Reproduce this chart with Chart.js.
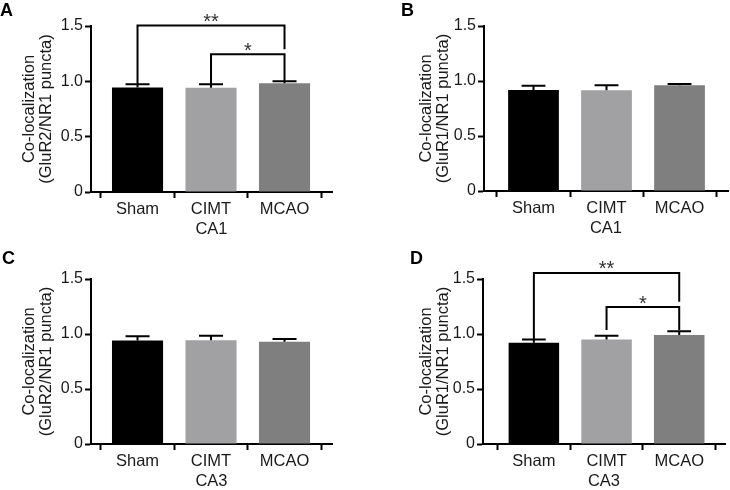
<!DOCTYPE html>
<html><head><meta charset="utf-8">
<script src="https://cdn.jsdelivr.net/npm/chart.js@4.4.0/dist/chart.umd.min.js"></script>
<style>
html,body{margin:0;padding:0;background:#fff;}
body{width:730px;height:490px;overflow:hidden;position:relative;}
canvas{position:absolute;}
.lbl{position:absolute;font:bold 18px "Liberation Sans",Arial,sans-serif;line-height:18px;color:#000;}
</style></head><body>
<canvas id="cA" width="365" height="245" style="left:0;top:0"></canvas>
<canvas id="cB" width="365" height="245" style="left:365px;top:0"></canvas>
<canvas id="cC" width="365" height="245" style="left:0;top:245px"></canvas>
<canvas id="cD" width="365" height="245" style="left:365px;top:245px"></canvas>
<div class="lbl" style="left:0px;top:1px">A</div>
<div class="lbl" style="left:401px;top:1px">B</div>
<div class="lbl" style="left:2px;top:249px">C</div>
<div class="lbl" style="left:410px;top:249px">D</div>
<script>
// ---- data ----
const groups = ['Sham', 'CIMT', 'MCAO'];
const yTickValues = [0, 0.5, 1.0, 1.5];
const yTitleGluR2 = ['Co-localization', '(GluR2/NR1 puncta)'];
const yTitleGluR1 = ['Co-localization', '(GluR1/NR1 puncta)'];
const meanA = [0.945, 0.943, 0.982];
const semA  = [0.028, 0.030, 0.018];
const meanB = [0.918, 0.915, 0.961];
const semB  = [0.039, 0.046, 0.012];
const meanC = [0.940, 0.943, 0.930];
const semC  = [0.040, 0.042, 0.025];
const meanD = [0.920, 0.950, 0.990];
const semD  = [0.030, 0.035, 0.035];
// significance brackets (value units)
const sigA = [
  {from: 0, to: 2, top: 1.505, endFrom: 0.973, endTo: 1.29, text: '**'},
  {from: 1, to: 2, top: 1.245, endFrom: 0.973, endTo: 1.0, text: '*'}
];
const sigD = [
  {from: 0, to: 2, top: 1.555, endFrom: 0.95, endTo: 1.294, text: '**'},
  {from: 1, to: 2, top: 1.245, endFrom: 1.036, endTo: 1.036, text: '*'}
];
const barColors = ['#000000', '#a1a1a4', '#7f7f7f'];
const FONT = '"Liberation Sans", Arial, sans-serif';

function panel(id, o) {
  const el = document.getElementById(id);
  const W = el.width, H = el.height;
  const marks = {
    id: 'marks',
    afterDatasetsDraw(chart) {
      const {ctx, scales: {x, y}} = chart;
      const meta = chart.getDatasetMeta(0);
      ctx.save();
      ctx.strokeStyle = '#000';
      ctx.lineWidth = 2;
      o.mean.forEach((m, i) => {
        const bar = meta.data[i];
        const px = x.getPixelForValue(i);
        const y0 = y.getPixelForValue(m), y1 = y.getPixelForValue(m + o.sem[i]);
        const hw = bar.width * 0.235;
        ctx.beginPath();
        ctx.moveTo(px, y0); ctx.lineTo(px, y1);
        ctx.moveTo(px - hw, y1); ctx.lineTo(px + hw, y1);
        ctx.stroke();
      });
      (o.sig || []).forEach(s => {
        const xa = x.getPixelForValue(s.from), xb = x.getPixelForValue(s.to);
        const yt = y.getPixelForValue(s.top);
        ctx.beginPath();
        ctx.moveTo(xa, y.getPixelForValue(s.endFrom));
        ctx.lineTo(xa, yt); ctx.lineTo(xb, yt);
        ctx.lineTo(xb, y.getPixelForValue(s.endTo));
        ctx.stroke();
        ctx.fillStyle = '#333';
        ctx.font = '20px ' + FONT;
        ctx.textAlign = 'center';
        ctx.textBaseline = 'alphabetic';
        ctx.fillText(s.text, (xa + xb) / 2, yt + 2.5);
      });
      ctx.restore();
    }
  };
  const gridOpts = {display: true, drawOnChartArea: false, drawTicks: true, tickLength: 6, tickWidth: 2, tickColor: '#000'};
  const borderOpts = {display: true, color: '#000', width: 2};
  new Chart(el, {
    type: 'bar',
    data: {datasets: [{
      data: o.mean.map((v, i) => ({x: i, y: v})),
      backgroundColor: barColors, borderWidth: 0,
      barPercentage: 0.695, categoryPercentage: 1
    }]},
    options: {
      responsive: false, animation: false, events: [],
      layout: {padding: {left: 0, top: o.top, right: W - o.right, bottom: 0}},
      plugins: {legend: {display: false}, tooltip: {enabled: false}},
      scales: {
        x: {
          type: 'linear', min: o.xmin, max: o.xmax, offset: false,
          afterBuildTicks: s => { s.ticks = groups.map((g, i) => ({value: i})); },
          afterFit: s => { s.height = H - o.bottom; },
          ticks: {callback: v => groups[v] ?? '', color: '#1a1a1a', font: {family: FONT, size: 16.5}, padding: 2, maxRotation: 0, autoSkip: false},
          grid: gridOpts, border: borderOpts,
          title: {display: true, text: o.xTitle, color: '#1a1a1a', font: {family: FONT, size: 16.5},
                  padding: {top: 0, bottom: H - (o.bottom + 37) - 9.9}}
        },
        y: {
          min: 0, max: 1.5,
          afterBuildTicks: s => { s.ticks = yTickValues.map(v => ({value: v})); },
          afterFit: s => { s.width = o.left; },
          ticks: {callback: v => v === 0 ? '0' : v.toFixed(1), color: '#1a1a1a', font: {family: FONT, size: 16}, padding: 2},
          grid: gridOpts, border: borderOpts,
          title: {display: true, text: o.yTitle, color: '#1a1a1a', font: {family: FONT, size: 16.5, lineHeight: 1.05},
                  padding: {top: o.t1 - 8.7 + 3.5, bottom: 0}}
        }
      }
    },
    plugins: [marks]
  });
}

panel('cA', {mean: meanA, sem: semA, sig: sigA, xTitle: 'CA1', yTitle: yTitleGluR2,
  left: 91, right: 332, top: 26, bottom: 192, t1: 26, xmin: -0.633, xmax: 2.646});
panel('cB', {mean: meanB, sem: semB, sig: null, xTitle: 'CA1', yTitle: yTitleGluR1,
  left: 119, right: 363, top: 26, bottom: 191, t1: 58, xmin: -0.678, xmax: 2.664});
panel('cC', {mean: meanC, sem: semC, sig: null, xTitle: 'CA3', yTitle: yTitleGluR2,
  left: 91, right: 332, top: 34, bottom: 199, t1: 26, xmin: -0.633, xmax: 2.646});
panel('cD', {mean: meanD, sem: semD, sig: sigD, xTitle: 'CA3', yTitle: yTitleGluR1,
  left: 118, right: 360, top: 34, bottom: 199, t1: 58, xmin: -0.70, xmax: 2.63});
</script>
</body></html>
